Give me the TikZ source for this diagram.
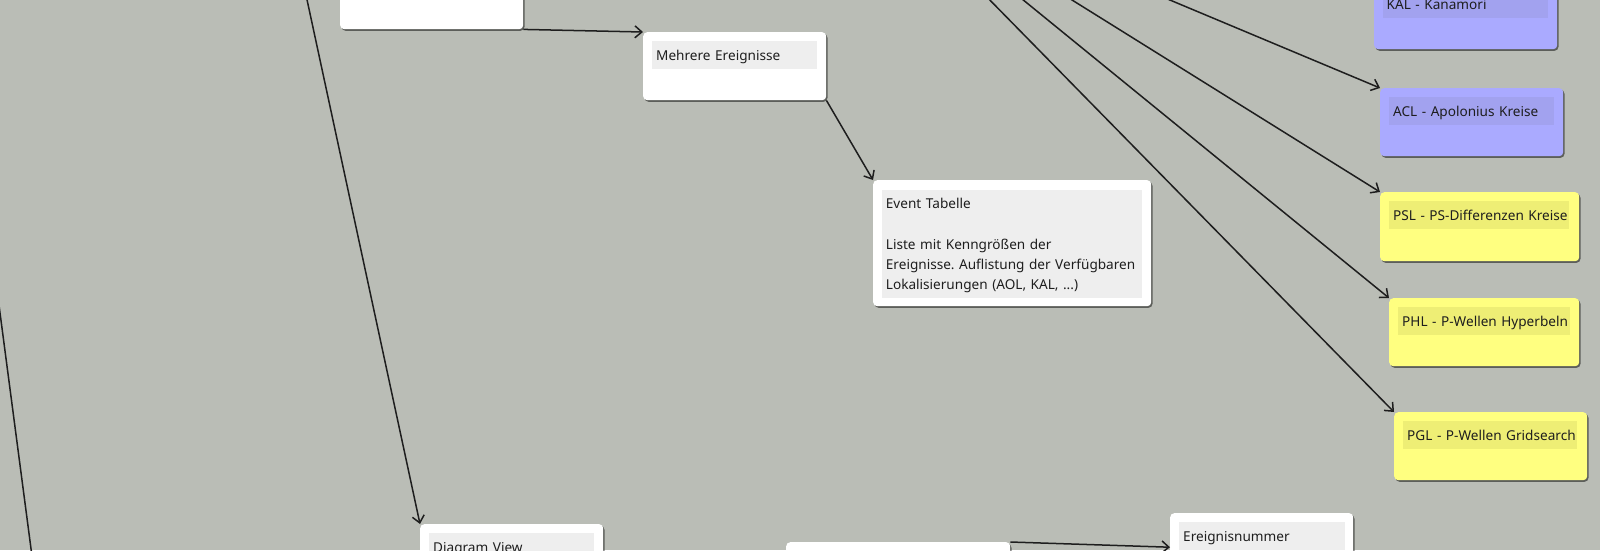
\documentclass[tikz,border=0pt]{standalone}
\usepackage{fontspec}
\setmainfont{Noto Sans}
\usetikzlibrary{arrows.meta,shadows}
\definecolor{bg}{HTML}{BABDB6}
\definecolor{labwhite}{HTML}{EEEEEE}
\definecolor{boxblue}{HTML}{AAAAFF}
\definecolor{labblue}{HTML}{A2A2EF}
\definecolor{boxyellow}{HTML}{FFFF80}
\definecolor{labyellow}{HTML}{EEEE75}
\definecolor{txt}{HTML}{1E1E1E}
\definecolor{linec}{HTML}{1E1E1E}
\frenchspacing
\hbadness=10000
\hfuzz=100pt
\begin{document}
\begin{tikzpicture}[x=1pt,y=-1pt,
  box/.style={anchor=north west, rounded corners=4pt, inner sep=0pt, minimum height=68pt, minimum width=183pt,
    drop shadow={shadow xshift=1.3pt, shadow yshift=-1.6pt, opacity=0.5, fill=black}},
  wbox/.style={box, fill=white},
  bbox/.style={box, fill=boxblue},
  ybox/.style={box, fill=boxyellow},
  txtfont/.style={text=txt, font=\fontsize{13.6}{20.3}\selectfont\frenchspacing},
  lab/.style={anchor=north west, inner xsep=4pt, inner ysep=0pt, minimum height=27.5pt, txtfont,
    align=left, text height=10.3pt, text depth=0pt},
  wlab/.style={lab, fill=labwhite},
  blab/.style={lab, fill=labblue},
  ylab/.style={lab, fill=labyellow},
  conn/.style={draw=linec, line width=1.5pt, -{Straight Barb[length=7pt,width=12pt,line width=1.5pt]}},
  plainline/.style={draw=linec, line width=1.5pt}
]
\path[use as bounding box, fill=bg] (0,0) rectangle (1600,550);
\clip (0,0) rectangle (1600,550);

% white boxes
\node[wbox] (tl) at (340,-39) {};
\node[wbox] (mehr) at (643,32) {};
\node[wlab, text width=157pt] (mehrl) at (652,41) {\mbox{Mehrere Ereignisse}};

\node[wbox, minimum width=278pt, minimum height=126pt] (ev) at (873,180) {};
\node[anchor=north west, fill=labwhite, inner sep=0pt, minimum width=260.5pt, minimum height=108pt] (evl) at (881.7,189.3) {};
\node[anchor=north west, inner sep=0pt, txtfont, align=left, text width=253pt] (evt) at (885.7,198)
  {Event Tabelle\\[20.3pt]Liste mit Kenngrößen der\\Ereignisse. Auflistung der Verfügbaren\\Lokalisierungen (AOL, KAL, ...)};

% blue boxes
\node[bbox] (kal) at (1374,-19) {};
\node[blab, text width=157.5pt] (kall) at (1382.5,-10) {\mbox{KAL - Kanamori}};
\node[bbox] (acl) at (1380,88) {};
\node[blab, text width=157pt] (acll) at (1389,97) {\mbox{ACL - Apolonius Kreise}};

% yellow boxes
\node[ybox, minimum width=199pt, minimum height=69pt] (psl) at (1380,192) {};
\node[ylab, text width=172pt] (psll) at (1389,201) {\mbox{PSL - PS-Differenzen Kreise}};
\node[ybox, minimum width=190pt] (phl) at (1389,298) {};
\node[ylab, text width=164pt] (phll) at (1398,307) {\mbox{PHL - P-Wellen Hyperbeln}};
\node[ybox, minimum width=193pt] (pgl) at (1394,412) {};
\node[ylab, text width=166pt] (pgll) at (1403,421) {\mbox{PGL - P-Wellen Gridsearch}};

% bottom boxes
\node[wbox] (dv) at (420,524) {};
\node[wlab, text width=157pt] (dvl) at (429,533) {\mbox{Diagram View}};
\node[wbox, minimum width=224pt] (bb) at (786,542) {};
\node[wbox] (ern) at (1170,513) {};
\node[wlab, text width=158pt] (ernl) at (1179,522) {\mbox{Ereignisnummer}};

% free ends
\coordinate (s1) at (306,-5);
\coordinate (l1) at (-3,290);
\coordinate (l2) at (32.5,560);
\coordinate (sA) at (980,-10);
\coordinate (sB) at (1011,-10);
\coordinate (sC) at (1056,-10);
\coordinate (sD) at (1146,-10);

% connectors
\draw[conn] (tl.south east) -- (mehr.north west);
\draw[conn] (mehr.south east) -- (ev.north west);
\draw[conn] (s1) -- (dv.north west);
\draw[plainline] (l1) -- (l2);
\draw[conn] (sA) -- (pgl.north west);
\draw[conn] (sB) -- (phl.north west);
\draw[conn] (sC) -- (psl.north west);
\draw[conn] (sD) -- (acl.north west);
\draw[conn] (bb.north east) -- (ern.west);
\end{tikzpicture}
\end{document}
